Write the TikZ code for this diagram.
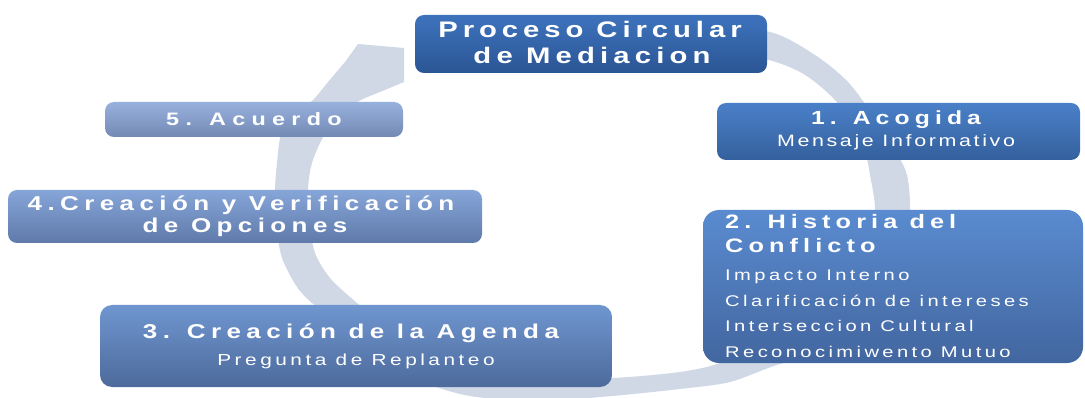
\documentclass[tikz,border=0pt]{standalone}
\usepackage{fontspec}
\setmainfont{Liberation Sans}
\newfontfamily\wideb[FakeStretch=1.3]{Liberation Sans}
\newcommand{\hdfont}[2]{\wideb\bfseries\addfontfeature{LetterSpace=#2}\fontsize{#1}{#1}\selectfont}
\newcommand{\sbfont}[2]{\wideb\mdseries\addfontfeature{LetterSpace=#2}\fontsize{#1}{#1}\selectfont}
\usetikzlibrary{shadings}
\definecolor{ringc}{RGB}{208,216,230}
\definecolor{c0t}{HTML}{3D73BC}\definecolor{c0b}{HTML}{2B5595}
\definecolor{c1t}{HTML}{4A80C8}\definecolor{c1b}{HTML}{34609D}
\definecolor{c2t}{HTML}{5A8BD0}\definecolor{c2b}{HTML}{42669F}
\definecolor{c3t}{HTML}{6F96D0}\definecolor{c3b}{HTML}{4D6A9B}
\definecolor{c4t}{HTML}{86A5D8}\definecolor{c4b}{HTML}{5F7AAA}
\definecolor{c5t}{HTML}{97B1DD}\definecolor{c5b}{HTML}{7389B3}
\begin{document}
\begin{tikzpicture}[x=1pt,y=-1pt,
  box/.style={rectangle, rounded corners=9pt, inner sep=0pt, draw=none},
  txt/.style={anchor=base, inner sep=0pt, text=white},
  ltxt/.style={txt, anchor=base west}]
\useasboundingbox (0,0) rectangle (1085,398);
% circular arrow
\fill[ringc] plot[smooth] coordinates {(640,26) (700,27) (770,32) (815,55) (848,82) (875,118) (895,150) (907,175) (910,210) (906,265) (885,318) (840,350) (780,364) (730,382) (680,389) (612,396) (540,401) (470,396) (420,380) (370,345) (330,315) (312,303) (297,287) (282,258) (276,225) (275,190) (277,163) (281,135) (295,115) (313,100) (328,82) (345,62)}
  -- (358,44) -- (404,48) -- (404,82)
  -- plot[smooth] coordinates {(380,92) (357,102) (335,118) (323,137) (312,163) (308,190) (310,225) (315,253) (330,278) (357,303) (400,338) (460,366) (540,379) (613,378) (680,372) (720,363) (775,340) (840,295) (868,250) (875,210) (870,175) (866,155) (855,125) (830,95) (800,72) (760,58) (700,55) (640,55)} -- cycle;
% boxes
\node[box, minimum width=352pt, minimum height=58pt, top color=c0t, bottom color=c0b] (title) at (591,44) {};
\node[box, minimum width=363pt, minimum height=57pt, top color=c1t, bottom color=c1b] (b1) at (898.5,131.5) {};
\node[box, rounded corners=16pt, minimum width=380pt, minimum height=153pt, top color=c2t, bottom color=c2b] (b2) at (893,286.5) {};
\node[box, rounded corners=12pt, minimum width=512pt, minimum height=82pt, top color=c3t, bottom color=c3b] (b3) at (356,346) {};
\node[box, minimum width=474pt, minimum height=53pt, top color=c4t, bottom color=c4b] (b4) at (245,216.5) {};
\node[box, minimum width=298pt, minimum height=35pt, top color=c5t, bottom color=c5b] (b5) at (254,119.5) {};
% texts
\node[txt, font=\hdfont{22.5}{22}] (t0a) at (590,38) {Proceso Circular};
\node[txt, font=\hdfont{22.5}{23}] (t0b) at (592,64) {de Mediacion};
\node[txt, font=\hdfont{19}{27}] (t1a) at (896,125) {1. Acogida};
\node[txt, font=\sbfont{16.5}{16}] (t1b) at (896,147) {Mensaje Informativo};
\node[ltxt, font=\hdfont{19.5}{26}] (t2a) at (725,229) {2. Historia del};
\node[ltxt, font=\hdfont{19.5}{26}] (t2b) at (725,253) {Conflicto};
\node[ltxt, font=\sbfont{15.5}{22}] (t2c) at (725,281) {Impacto Interno};
\node[ltxt, font=\sbfont{15.5}{22}] (t2d) at (725,306) {Clarificación de intereses};
\node[ltxt, font=\sbfont{15.5}{22}] (t2e) at (725,331) {Interseccion Cultural};
\node[ltxt, font=\sbfont{15.5}{22}] (t2f) at (725,357) {Reconocimiwento Mutuo};
\node[txt, font=\hdfont{20}{27}] (t3a) at (351,338) {3. Creación de la Agenda};
\node[txt, font=\sbfont{16}{22}] (t3b) at (356,365) {Pregunta de Replanteo};
\node[txt, font=\hdfont{20}{27}] (t4a) at (241,211) {4.Creación y Verificación};
\node[txt, font=\hdfont{20}{27}] (t4b) at (245,233) {de Opciones};
\node[txt, font=\hdfont{18}{35}] (t5) at (254,126) {5. Acuerdo};
\end{tikzpicture}
\end{document}
